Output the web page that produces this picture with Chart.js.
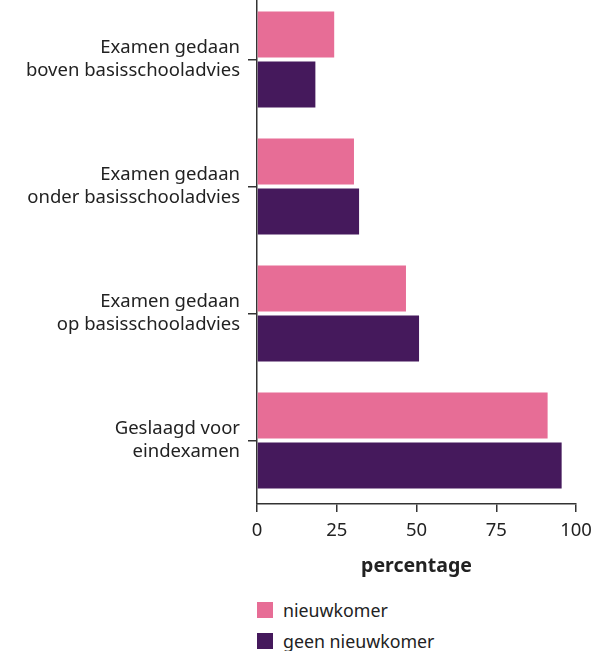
<!DOCTYPE html>
<html>
<head>
<meta charset="utf-8">
<script src="https://cdn.jsdelivr.net/npm/chart.js@4"></script>
<style>
  body { margin: 0; background: #fff; }
  #wrap { position: relative; width: 595px; height: 651px; overflow: hidden; }
  #grafico { position: absolute; left: 0; top: -4px; }
  #leyenda { position: absolute; left: 257px; top: 594px; font-family: "Noto Sans", sans-serif; font-size: 17.8px; color: #222; }
  .item { display: flex; align-items: center; height: 31px; }
  .caja { width: 16px; height: 16px; margin-right: 10px; }
</style>
</head>
<body>
<div id="wrap">
  <canvas id="grafico" width="595" height="590"></canvas>
  <div id="leyenda"></div>
</div>
<script>
const categorias = [
    ['Examen gedaan', 'boven basisschooladvies'],
    ['Examen gedaan', 'onder basisschooladvies'],
    ['Examen gedaan', 'op basisschooladvies'],
    ['Geslaagd voor', 'eindexamen']
];
const nieuwkomer = [24.2, 30.4, 46.7, 91.1];
const geenNieuwkomer = [18.3, 32.0, 50.8, 95.5];
const ticksX = [0, 25, 50, 75, 100];

const fuente = "'Noto Sans', sans-serif";
const colorTexto = '#222';

const ctx = document.getElementById('grafico').getContext('2d');
const grafico = new Chart(ctx, {
    type: 'bar',
    data: {
        labels: categorias,
        datasets: [
            { label: 'nieuwkomer', data: nieuwkomer, backgroundColor: '#e76d96' },
            { label: 'geen nieuwkomer', data: geenNieuwkomer, backgroundColor: '#45195c' }
        ]
    },
    options: {
        indexAxis: 'y',
        responsive: false,
        animation: false,
        layout: { padding: { top: 0, right: 19, left: 0, bottom: 8 } },
        datasets: { bar: { categoryPercentage: 0.787, barPercentage: 0.92 } },
        plugins: { legend: { display: false }, tooltip: { enabled: false } },
        scales: {
            x: {
                min: 0, max: 100,
                afterBuildTicks: (scale) => { scale.ticks = ticksX.map(v => ({ value: v })); },
                grid: { drawOnChartArea: false, tickLength: 8, color: '#333', lineWidth: 1.5 },
                border: { color: '#333', width: 1.5 },
                ticks: { color: colorTexto, font: { family: fuente, size: 18.5 }, padding: 8, maxRotation: 0 },
                title: { display: true, text: 'percentage', color: colorTexto, font: { family: fuente, size: 19.5, weight: 'bold' }, padding: { top: 2, bottom: 0 } },
                afterFit: (scale) => {
                    scale.height = 74;
                    scale.paddingLeft = 0;
                    scale.paddingRight = 0;
                }
            },
            y: {
                grid: { drawOnChartArea: false, offset: false, tickLength: 9, color: '#333', lineWidth: 1.5 },
                border: { color: '#333', width: 1.5 },
                ticks: { color: colorTexto, font: { family: fuente, size: 18.5, lineHeight: 1.24 }, padding: 8, crossAlign: 'near' },
                afterFit: (scale) => {
                    scale.width = 257;
                    scale.paddingTop = 0;
                    scale.paddingBottom = 0;
                }
            }
        }
    }
});

const leyenda = document.getElementById('leyenda');
grafico.data.datasets.forEach(ds => {
    leyenda.innerHTML += `<div class="item"><span class="caja" style="background:${ds.backgroundColor}"></span>${ds.label}</div>`;
});
</script>
</body>
</html>
